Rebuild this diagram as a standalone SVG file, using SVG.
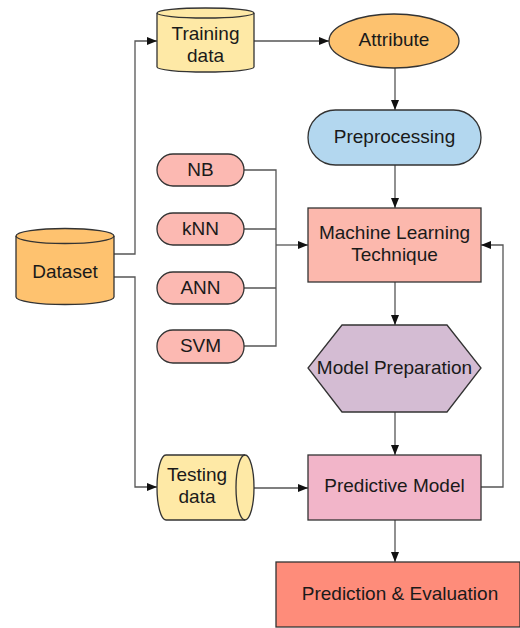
<svg xmlns="http://www.w3.org/2000/svg" width="520" height="628" viewBox="0 0 520 628">
<style>
text{font-family:"Liberation Sans",Arial,sans-serif;font-size:19px;fill:#1a1a1a;text-anchor:middle;dominant-baseline:central}
.s{stroke:#333;stroke-width:1.3}
.c{fill:none;stroke:#555;stroke-width:1.3}
</style>
<defs>
<marker id="a" viewBox="0 0 10 10" refX="10" refY="5" markerWidth="10" markerHeight="10" markerUnits="userSpaceOnUse" orient="auto"><path d="M0,1 L10,5 L0,9 Z" fill="#111"/></marker>
</defs>
<rect width="520" height="628" fill="#fff"/>
<g id="connectors">
<path class="c" d="M254,41 H329" marker-end="url(#a)"/>
<path class="c" d="M395,68 V110" marker-end="url(#a)"/>
<path class="c" d="M395,165 V208" marker-end="url(#a)"/>
<path class="c" d="M114,254 H135 V41 H157" marker-end="url(#a)"/>
<path class="c" d="M114,277 H135 V487 H157" marker-end="url(#a)"/>
<path class="c" d="M244,170 H276 V346 H244 M244,229 H276 M244,288 H276"/>
<path class="c" d="M276,245 H308" marker-end="url(#a)"/>
<path class="c" d="M395,282 V325" marker-end="url(#a)"/>
<path class="c" d="M395,412 V455" marker-end="url(#a)"/>
<path class="c" d="M254,488 H308" marker-end="url(#a)"/>
<path class="c" d="M481,487 H503 V245 H481" marker-end="url(#a)"/>
<path class="c" d="M395,520 V562" marker-end="url(#a)"/>
</g>
<g id="training">
<path class="s" fill="#fee9a6" d="M157,13 A48.5,5 0 0 1 254,13 V67 A48.5,5 0 0 1 157,67 Z"/>
<path class="s" fill="none" d="M157,13 A48.5,5 0 0 0 254,13"/>
<text x="205.5" y="33">Training</text>
<text x="205.5" y="55">data</text>
</g>
<g id="attribute">
<ellipse class="s" fill="#fdc26f" cx="394" cy="41" rx="65" ry="27"/>
<text x="394" y="39.5">Attribute</text>
</g>
<g id="preprocessing">
<rect class="s" fill="#b3d7ef" x="308" y="110" width="173" height="55" rx="27.5"/>
<text x="394.5" y="136.5">Preprocessing</text>
</g>
<g id="dataset">
<path class="s" fill="#fec26f" d="M16,236 A49,7.5 0 0 1 114,236 V297 A49,7.5 0 0 1 16,297 Z"/>
<path class="s" fill="none" d="M16,236 A49,7.5 0 0 0 114,236"/>
<text x="65" y="271">Dataset</text>
</g>
<g id="nb"><rect class="s" fill="#fcb9b2" x="157" y="154" width="87" height="32" rx="16"/><text x="200.5" y="169">NB</text></g>
<g id="knn"><rect class="s" fill="#fcb9b2" x="157" y="213" width="87" height="32" rx="16"/><text x="200.5" y="228">kNN</text></g>
<g id="ann"><rect class="s" fill="#fcb9b2" x="157" y="272" width="87" height="32" rx="16"/><text x="200.5" y="287">ANN</text></g>
<g id="svm"><rect class="s" fill="#fcb9b2" x="157" y="330" width="87" height="33" rx="16"/><text x="200.5" y="345">SVM</text></g>
<g id="mlt">
<rect class="s" fill="#fcb8ad" x="308" y="208" width="173" height="74"/>
<text x="394.5" y="232">Machine Learning</text>
<text x="394.5" y="254">Technique</text>
</g>
<g id="modelprep">
<polygon class="s" fill="#d4bcd3" points="342,325 447,325 481,368 447,412 342,412 308,368"/>
<text x="394.5" y="367">Model Preparation</text>
</g>
<g id="testing">
<path class="s" fill="#fee9a6" d="M245,455 A9,32.5 0 0 1 245,520 H166 A9,32.5 0 0 1 166,455 Z"/>
<path class="s" fill="none" d="M245,455 A9,32.5 0 0 0 245,520"/>
<text x="197" y="474">Testing</text>
<text x="197" y="496">data</text>
</g>
<g id="predictive">
<rect class="s" fill="#f2b5c9" x="308" y="455" width="173" height="65"/>
<text x="394.5" y="485">Predictive Model</text>
</g>
<g id="evaluation">
<rect class="s" fill="#fe8c7a" x="276" y="562" width="244" height="65"/>
<text x="400" y="593">Prediction &amp; Evaluation</text>
</g>
</svg>
